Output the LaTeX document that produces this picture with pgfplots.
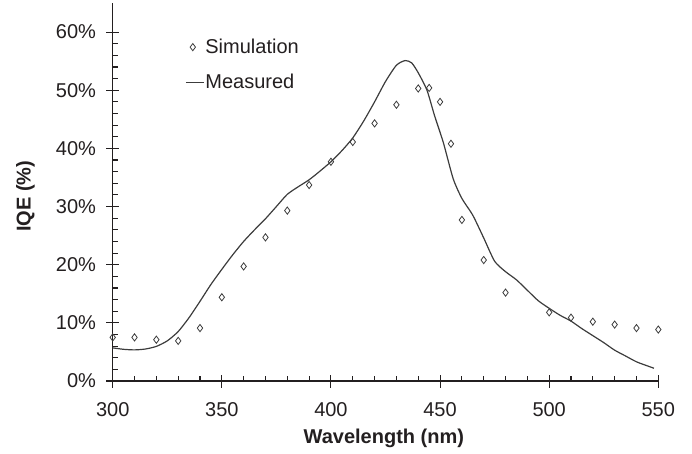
\documentclass[border=0pt]{standalone}
\usepackage{pgfplots}
\pgfplotsset{compat=1.18}
\usepackage{fontspec}
\setmainfont{Liberation Sans}
\definecolor{ink}{HTML}{231F20}
\definecolor{curve}{HTML}{3C3C3C}
\newcommand{\chartfont}{\fontsize{20}{24}\selectfont}

\begin{document}
\begin{tikzpicture}
\begin{axis}[
  scale only axis,
  width=545.6pt, height=378pt,
  xmin=300, xmax=550, ymin=0, ymax=65,
  axis lines*=left,
  axis line style={ink, line width=1.1pt},
  xtick={300,350,...,550}, ytick={0,10,...,60},
  minor x tick num=4, minor y tick num=4,
  tick align=center,
  major tick length=13pt, minor tick length=5.5pt,
  tick style={ink, line width=1.1pt},
  minor x tick style={yshift=2.75pt},
  minor y tick style={xshift=2.75pt},
  /pgf/number format/assume math mode=true,
  yticklabel={\chartfont\pgfmathprintnumber{\tick}\%},
  ticklabel style={text=ink, font=\chartfont},
  yticklabel style={anchor=east, inner sep=0pt, xshift=-10pt, font=\chartfont},
  xticklabel style={anchor=base, inner sep=0pt, yshift=-28.5pt},
  xlabel={\bfseries Wavelength (nm)},
  ylabel={\bfseries IQE (\%)},
  label style={font=\chartfont},
  xlabel style={at={(axis description cs:0.497,-0.1508)}, anchor=center, text=ink},
  ylabel style={at={(axis description cs:-0.1598,0.489)}, anchor=center, text=ink},
  legend cell align=left,
  legend style={draw=none, fill=none, at={(axis description cs:0.1325,0.9076)},
    anchor=north west, inner sep=0pt, row sep=17pt, text=ink, font=\chartfont,
    nodes={inner sep=1pt}},
]
\addplot[only marks, mark=diamond, mark size=3.6pt, curve, mark options={line width=0.8pt},
  legend image code/.code={\draw[only marks] plot coordinates {(7pt,0pt)};}]
coordinates {
(300,7.5) (310,7.5) (320,7.1) (330,6.9) (340,9.1) (350,14.4) (360,19.7)
(370,24.7) (380,29.3) (390,33.7) (400,37.7) (410,41.1) (420,44.3) (430,47.5)
(440,50.3) (445,50.4) (450,48.0) (455,40.8) (460,27.7) (470,20.8) (480,15.2)
(500,11.8) (510,10.9) (520,10.2) (530,9.7) (540,9.1) (550,8.85)
};
\addlegendentry{Simulation}
\addplot[curve, line width=1.2pt, smooth, tension=0.4,
  legend image code/.code={\draw (0pt,0pt) -- (18pt,0pt);}]
coordinates {
(300,5.7) (305,5.45) (310,5.35) (315,5.5) (320,5.95) (325,6.9) (330,8.5)
(335,10.9) (340,13.7) (345,16.6) (350,19.2) (355,21.7) (360,24.0) (365,26.0)
(370,27.9) (375,30.0) (380,32.1) (385,33.4) (390,34.6) (395,36.1) (400,37.7)
(405,39.6) (410,41.8) (415,44.7) (420,48.0) (425,51.5) (430,54.3) (434,55.1)
(437,54.7) (440,53.0) (444,50.0) (447.5,45.6) (451.5,41.0) (456,34.8)
(460,31.4) (465,28.5) (470,24.6) (475,20.6) (480,18.8) (485,17.4) (490,15.6)
(495,13.8) (500,12.5) (505,11.3) (510,10.3) (515,9.0) (520,7.8) (525,6.6)
(530,5.3) (535,4.3) (540,3.3) (545,2.6) (548,2.2)
};
\addlegendentry{Measured}
\end{axis}
\path ([shift={(-112.7pt,-72pt)}]current axis.south west) rectangle
      ([shift={(579.3pt,381pt)}]current axis.south west);
\end{tikzpicture}
\end{document}
